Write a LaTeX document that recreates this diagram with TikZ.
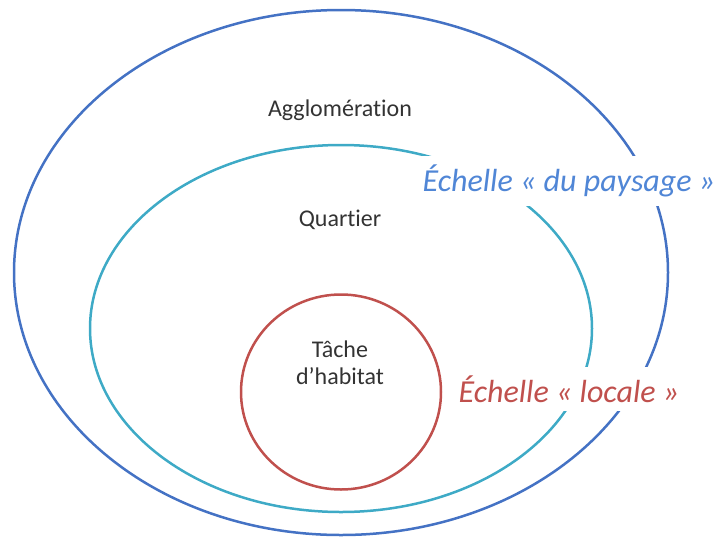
\documentclass[tikz,border=0pt]{standalone}
\usepackage{fontspec}
\setmainfont{Carlito}[Ligatures={NoCommon,NoRequired,NoContextual}]
\usetikzlibrary{shapes.geometric}
\definecolor{aggblue}{HTML}{4472C4}
\definecolor{quaraqua}{HTML}{3EAAC6}
\definecolor{locred}{HTML}{C0504D}
\definecolor{txtgray}{HTML}{333333}
\definecolor{lblblue}{HTML}{5086D6}
\tikzset{
  ring/.style={ellipse, draw, line width=2.5pt, inner sep=0pt, outer sep=0pt},
  lab/.style={text=txtgray, font=\fontsize{24}{29}\selectfont, align=center, inner sep=0pt},
  scalelab/.style={fill=white, inner xsep=6pt, inner ysep=9pt, font=\fontsize{32}{36}\selectfont\itshape}
}
\begin{document}
\begin{tikzpicture}[x=1pt,y=-1pt]
\useasboundingbox (0,0) rectangle (718,539);
\node[ring, aggblue, minimum width=654pt, minimum height=525pt] (agg) at (341,272.5) {};
\node[ring, quaraqua, minimum width=502pt, minimum height=367pt] (quar) at (341,328.5) {};
\node[ring, locred, minimum width=200pt, minimum height=195pt] (tache) at (341,392) {};
\node[lab] (tagg) at (340,110) {Agglomération};
\node[lab] (tquar) at (340,220) {Quartier};
\node[lab] (ttache) at (340,363) {Tâche\\[-2pt]d’habitat};
\node[scalelab, text=lblblue] (epays) at (569,181) {Échelle « du paysage »};
\node[scalelab, text=locred] (eloc) at (569,389) {Échelle « locale »};
\end{tikzpicture}
\end{document}
